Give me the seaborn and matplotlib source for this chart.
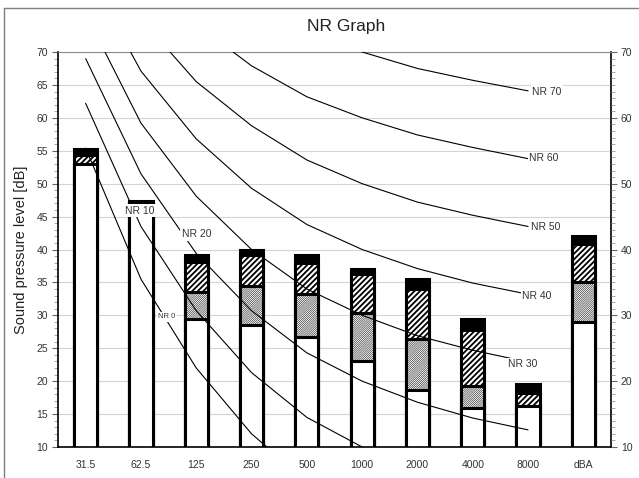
import numpy as np
import seaborn as sns
import pandas as pd
import matplotlib.pyplot as plt
from matplotlib.lines import Line2D
from matplotlib.ticker import MultipleLocator

sns.set_style("white")
plt.rcParams['font.family'] = ['Liberation Sans', 'DejaVu Sans']

# octave bands + overall dBA
bands = ['31.5', '62.5', '125', '250', '500', '1000', '2000', '4000', '8000', 'dBA']

# stacked segment tops (cumulative)
white_top = [53.0, 47.0, 29.5, 28.5, 26.7, 23.0, 18.6, 15.9, 16.2, 29.0]
gray_top  = [53.0, 47.0, 33.5, 34.4, 33.3, 30.4, 26.4, 19.3, 16.2, 35.0]
hatch_top = [54.3, 47.0, 38.1, 39.1, 37.9, 36.3, 34.0, 27.7, 18.2, 40.8]
black_top = [55.3, 47.3, 39.2, 40.0, 39.2, 37.1, 35.5, 29.4, 19.6, 42.0]

# NR curves, 31.5 .. 8000 Hz
nr_levels = [0, 10, 20, 30, 40, 50, 60, 70]
nr_0  = [55.4, 35.5, 22.0, 12.0, 4.8, 0.0, -3.5, -6.1, -8.0]
nr_10 = [62.2, 43.5, 30.7, 21.3, 14.5, 10.0, 6.6, 4.2, 2.3]
nr_20 = [69.0, 51.5, 39.4, 30.7, 24.3, 20.0, 16.8, 14.4, 12.6]
nr_30 = [75.8, 59.2, 48.1, 40.0, 34.0, 30.0, 26.9, 24.7, 22.9]
nr_40 = [82.6, 67.1, 56.8, 49.3, 43.8, 40.0, 37.1, 34.9, 33.2]
nr_50 = [89.4, 75.0, 65.5, 58.8, 53.6, 50.0, 47.2, 45.2, 43.5]
nr_60 = [96.2, 82.9, 74.2, 67.9, 63.2, 60.0, 57.4, 55.5, 53.8]
nr_70 = [103.0, 90.8, 82.9, 77.2, 73.0, 70.0, 67.5, 65.7, 64.1]
nr_curves = [nr_0, nr_10, nr_20, nr_30, nr_40, nr_50, nr_60, nr_70]

fig = plt.figure(figsize=(6.39, 4.78), dpi=100)
ax = fig.add_axes([58/639, 31/478, 553/639, 395/478])

def stack(vals, hatch=None, hlw=1.0, color='white'):
    sns.barplot(x=bands, y=vals, color=color, saturation=1, width=0.42,
                edgecolor='black', linewidth=2.2, ax=ax, zorder=2)
    for p in ax.containers[-1]:
        if hatch:
            p.set_hatch(hatch)
            if hasattr(p, 'set_hatch_linewidth'):
                p.set_hatch_linewidth(hlw)

stack(black_top, color='black')
stack(hatch_top, hatch='//////', hlw=1.3)
stack(gray_top, hatch='/' * 16, hlw=0.35)
stack(white_top)

xpos = np.arange(9)
for lvl, vals in zip(nr_levels, nr_curves):
    sns.lineplot(x=xpos, y=vals, color='black', linewidth=0.8, ax=ax, zorder=3)

box = dict(facecolor='white', edgecolor='none', pad=1.0)
lab = dict(color='#333333', zorder=5, bbox=box)
ax.text(1.47, 29.8, 'NR 0', fontsize=5.5, ha='center', va='center', **lab)
ax.text(0.98, 45.9, 'NR 10', fontsize=7.5, ha='center', va='center', **lab)
ax.text(2.0, 42.3, 'NR 20', fontsize=7.5, ha='center', va='center', **lab)
ax.text(7.64, 22.6, 'NR 30', fontsize=7.5, ha='left', va='center', **lab)
ax.text(7.89, 32.9, 'NR 40', fontsize=7.5, ha='left', va='center', **lab)
ax.text(8.05, 43.4, 'NR 50', fontsize=7.5, ha='left', va='center', **lab)
ax.text(8.02, 53.9, 'NR 60', fontsize=7.5, ha='left', va='center', **lab)
ax.text(8.07, 64.0, 'NR 70', fontsize=7.5, ha='left', va='center', **lab)

ax.set_xlim(-0.5, 9.5)
ax.set_ylim(10, 70)
ax.set_xlabel('')
ax.set_ylabel('Sound pressure level [dB]', fontsize=10.5, color='#222222', labelpad=6)
ax.yaxis.set_major_locator(MultipleLocator(5))
ax.yaxis.set_minor_locator(MultipleLocator(1))
ax.tick_params(axis='y', which='major', left=True, length=4, width=0.8,
               labelsize=7.5, labelcolor='#333333', color='#666666', pad=3)
ax.tick_params(axis='y', which='minor', left=True, length=3, width=0.6, color='#999999')
ax.tick_params(axis='x', length=0, labelsize=7.5, labelcolor='#333333', pad=9)
ax.grid(axis='y', which='major', color='#d4d4d4', linewidth=0.8, zorder=0)
ax.set_axisbelow(True)
for s in ['left', 'bottom', 'right']:
    ax.spines[s].set_color('black')
    ax.spines[s].set_linewidth(1.2)
ax.spines['top'].set_color('#888888')
ax.spines['top'].set_linewidth(0.8)

ax2 = ax.twinx()
ax2.set_ylim(10, 70)
ax2.yaxis.set_major_locator(MultipleLocator(10))
ax2.yaxis.set_minor_locator(MultipleLocator(1))
ax2.tick_params(axis='y', which='major', right=True, length=4, width=0.8,
                labelsize=7.5, labelcolor='#333333', color='#666666', pad=3)
ax2.tick_params(axis='y', which='minor', right=True, length=3, width=0.6, color='#999999')
for s in ax2.spines.values():
    s.set_visible(False)

fig.text(346/639, 1 - 27/478, 'NR Graph', fontsize=12.5, ha='center', va='center',
         color='#222222')

# outer chart frame
fig.add_artist(Line2D([4/639, 4/639], [0, 1 - 8/478], color='#7f7f7f', lw=1.0))
fig.add_artist(Line2D([4/639, 1], [1 - 8/478, 1 - 8/478], color='#7f7f7f', lw=1.0))

fig.savefig('out.png', dpi=100)
